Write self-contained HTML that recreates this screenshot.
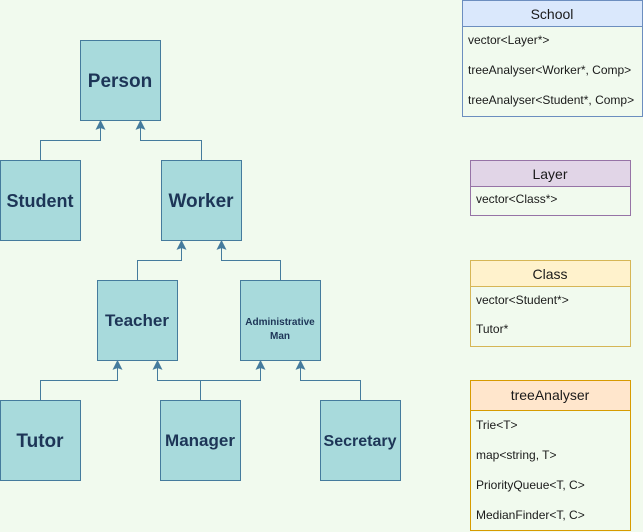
<!DOCTYPE html>
<html><head><meta charset="utf-8"><style>
html,body{margin:0;padding:0;background:#f1faee;}
svg{display:block}
.b{font-family:"Liberation Sans",sans-serif;font-weight:bold;fill:#1d3557;text-anchor:middle}
.t{font-family:"Liberation Sans",sans-serif;font-size:12px;fill:#1a1a1a}
.h{font-family:"Liberation Sans",sans-serif;font-size:14px;fill:#1a1a1a;text-anchor:middle}
</style></head><body>
<svg width="643" height="532" viewBox="0 0 643 532" xmlns="http://www.w3.org/2000/svg">
<rect width="643" height="532" fill="#f1faee"/>
<g fill="#a8dadc" stroke="#457b9d" stroke-width="1">
<rect x="80.5" y="40.5" width="80" height="80"/>
<rect x="0.5" y="160.5" width="80" height="80"/>
<rect x="161.5" y="160.5" width="80" height="80"/>
<rect x="97.5" y="280.5" width="80" height="80"/>
<rect x="240.5" y="280.5" width="80" height="80"/>
<rect x="0.5" y="400.5" width="80" height="80"/>
<rect x="160.5" y="400.5" width="80" height="80"/>
<rect x="320.5" y="400.5" width="80" height="80"/>
</g>
<g fill="none" stroke="#457b9d" stroke-width="1">
<path d="M40.5 160V140.5H100.5V127"/>
<path d="M201.5 160V140.5H140.5V127"/>
<path d="M137.5 280V260.5H181.5V247"/>
<path d="M280.5 280V260.5H221.5V247"/>
<path d="M40.5 400V380.5H117.5V367"/>
<path d="M200.5 400V380.5H157.5V367M200.5 380.5H260.5V367"/>
<path d="M360.5 400V380.5H300.5V367"/>
</g>
<g fill="#457b9d" stroke="#457b9d" stroke-width="1">
<path d="M100.5 121l-4 8l4-1.5l4 1.5z"/>
<path d="M140.5 121l-4 8l4-1.5l4 1.5z"/>
<path d="M181.5 241l-4 8l4-1.5l4 1.5z"/>
<path d="M221.5 241l-4 8l4-1.5l4 1.5z"/>
<path d="M117.5 361l-4 8l4-1.5l4 1.5z"/>
<path d="M157.5 361l-4 8l4-1.5l4 1.5z"/>
<path d="M260.5 361l-4 8l4-1.5l4 1.5z"/>
<path d="M300.5 361l-4 8l4-1.5l4 1.5z"/>
</g>
<text class="b" x="120" y="87" font-size="19">Person</text>
<text class="b" x="40" y="207" font-size="18">Student</text>
<text class="b" x="201" y="207" font-size="19">Worker</text>
<text class="b" x="137" y="326" font-size="17">Teacher</text>
<text class="b" x="280" y="325" font-size="10">Administrative</text>
<text class="b" x="280" y="339" font-size="10">Man</text>
<text class="b" x="40" y="447" font-size="19">Tutor</text>
<text class="b" x="200" y="446" font-size="17">Manager</text>
<text class="b" x="360" y="446" font-size="16">Secretary</text>

<rect x="462.5" y="0.5" width="180" height="116" fill="#f1faee" stroke="#6c8ebf"/>
<rect x="462.5" y="0.5" width="180" height="26" fill="#dae8fc" stroke="#6c8ebf"/>
<text class="h" x="552" y="19">School</text>
<text class="t" x="468" y="44">vector&lt;Layer*&gt;</text>
<text class="t" x="468" y="74">treeAnalyser&lt;Worker*, Comp&gt;</text>
<text class="t" x="468" y="104">treeAnalyser&lt;Student*, Comp&gt;</text>

<rect x="470.5" y="160.5" width="160" height="55" fill="#f1faee" stroke="#9673a6"/>
<rect x="470.5" y="160.5" width="160" height="26" fill="#e1d5e7" stroke="#9673a6"/>
<text class="h" x="550" y="179">Layer</text>
<text class="t" x="476" y="203">vector&lt;Class*&gt;</text>

<rect x="470.5" y="260.5" width="160" height="86" fill="#f1faee" stroke="#d6b656"/>
<rect x="470.5" y="260.5" width="160" height="26" fill="#fff2cc" stroke="#d6b656"/>
<text class="h" x="550" y="279">Class</text>
<text class="t" x="476" y="304" fill="#1d3557">vector&lt;Student*&gt;</text>
<text class="t" x="476" y="333" fill="#1d3557">Tutor*</text>

<rect x="470.5" y="380.5" width="160" height="150" fill="#f1faee" stroke="#d79b00"/>
<rect x="470.5" y="380.5" width="160" height="30" fill="#ffe6cc" stroke="#d79b00"/>
<text class="h" x="550" y="400" font-size="13">treeAnalyser</text>
<text class="t" x="476" y="429">Trie&lt;T&gt;</text>
<text class="t" x="476" y="459">map&lt;string, T&gt;</text>
<text class="t" x="476" y="489">PriorityQueue&lt;T, C&gt;</text>
<text class="t" x="476" y="519">MedianFinder&lt;T, C&gt;</text>
</svg>
</body></html>
